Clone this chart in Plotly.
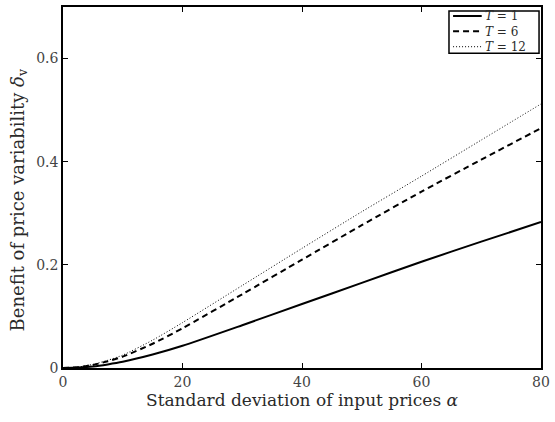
import plotly.graph_objects as go

# Standard deviation of input prices (x) and benefit of price variability (y)
alpha = [0, 2.5, 5, 7.5, 10, 15, 20, 30, 40, 50, 60, 70, 80]
delta_T1 = [0, 0.0008, 0.003, 0.007, 0.012, 0.026, 0.043, 0.083, 0.124, 0.165, 0.206, 0.245, 0.283]
delta_T6 = [0, 0.0015, 0.006, 0.013, 0.022, 0.047, 0.077, 0.143, 0.210, 0.277, 0.342, 0.404, 0.465]
delta_T12 = [0, 0.0018, 0.007, 0.015, 0.025, 0.054, 0.088, 0.160, 0.232, 0.303, 0.372, 0.442, 0.512]

series_names = ["<i>T</i> = 1", "<i>T</i> = 6", "<i>T</i> = 12"]
x_ticks = [0, 20, 40, 60, 80]
y_ticks = [0, 0.2, 0.4, 0.6]
y_tick_text = ["0", "0.2", "0.4", "0.6"]

FONT = "DejaVu Serif, Liberation Serif, serif"
TXT = "#2a2a2a"

fig = go.Figure()
styles = [
    dict(color="black", width=2, dash="solid"),
    dict(color="black", width=2, dash="6px,4px"),
    dict(color="black", width=1, dash="1px,2px"),
]
for name, ys, st in zip(series_names, [delta_T1, delta_T6, delta_T12], styles):
    fig.add_trace(go.Scatter(x=alpha, y=ys, mode="lines", name=name, showlegend=False,
                             line=dict(shape="spline", smoothing=0.6, **st)))

axis_common = dict(
    showline=True, linecolor="black", linewidth=1.5, mirror="allticks",
    ticks="inside", ticklen=5, tickcolor="black", tickwidth=1,
    showgrid=False, zeroline=False,
    tickfont=dict(family=FONT, size=14, color="#444"),
)

# Compact legend box in the upper-right corner (paper coordinates)
box_x0, box_x1, box_y0, box_y1 = 0.8075, 0.9959, 0.872, 0.989
row_y = [0.975, 0.9325, 0.890]
line_x0, line_x1, text_x = 0.816, 0.876, 0.878

shapes = [dict(type="rect", xref="paper", yref="paper",
               x0=box_x0, x1=box_x1, y0=box_y0, y1=box_y1,
               line=dict(color="black", width=1.5), fillcolor="white", layer="above")]
for st, yy in zip(styles, row_y):
    shapes.append(dict(type="line", xref="paper", yref="paper",
                       x0=line_x0, x1=line_x1, y0=yy, y1=yy,
                       line=dict(color=st["color"], width=st["width"], dash=st["dash"]),
                       layer="above"))

annotations = [
    dict(xref="paper", yref="paper", x=text_x, y=row_y[1],
         xanchor="left", yanchor="middle", align="left", showarrow=False,
         text="<br>".join(series_names),
         font=dict(family=FONT, size=12, color=TXT)),
    dict(xref="paper", yref="paper", x=-0.093, y=0.4656,
         xanchor="center", yanchor="middle", textangle=-90, showarrow=False,
         text="Benefit of price variability <i>δ</i><sub>v</sub>",
         font=dict(family=FONT, size=18, color=TXT)),
]

fig.update_layout(
    width=555, height=422,
    margin=dict(l=63, r=9, t=5, b=54),
    plot_bgcolor="white", paper_bgcolor="white",
    font=dict(family=FONT, color=TXT),
    xaxis=dict(range=[0, 80], tickvals=x_ticks,
               title=dict(text="Standard deviation of input prices <i>α</i>",
                          font=dict(family=FONT, size=17, color=TXT), standoff=6),
               **axis_common),
    yaxis=dict(range=[0, 0.7], tickvals=y_ticks, ticktext=y_tick_text,
               **axis_common),
    shapes=shapes,
    annotations=annotations,
    showlegend=False,
)

fig.write_html("out.html")
